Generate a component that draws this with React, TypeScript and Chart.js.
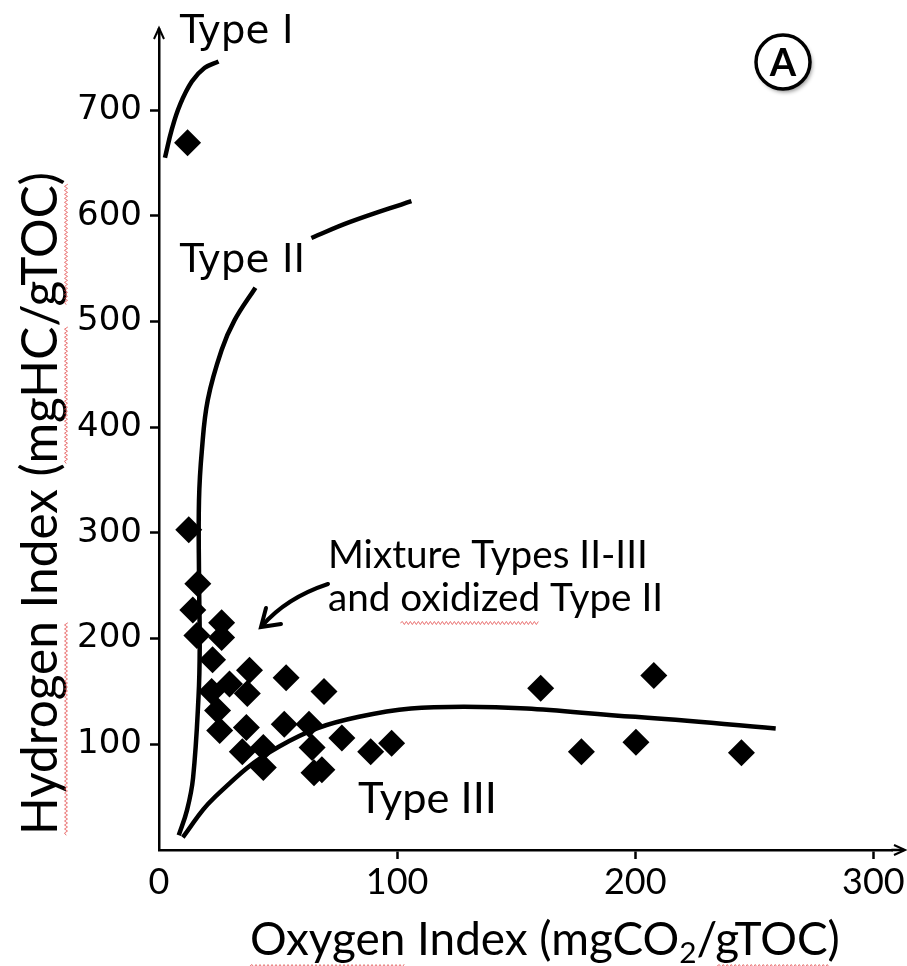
import React, { useEffect, useRef } from 'react';
import { Chart, registerables } from 'chart.js';

Chart.register(...registerables);

// Axis tick values
const xTickValues = [0, 100, 200, 300];
const yTickValues = [100, 200, 300, 400, 500, 600, 700];

// Samples: Oxygen Index (mgCO2/gTOC) vs Hydrogen Index (mgHC/gTOC)
const sampleOI = [
  12, 12.5, 16.3, 14.2, 15.9, 26.3, 26.3, 22.5, 38, 53.4, 69.3, 29.6, 22.1, 37.1, 24.6, 25.5, 36.7,
  52.6, 63, 76.8, 35, 43.8, 64.3, 43.8, 65.1, 68.4, 88.9, 97.7, 160.3, 177.4, 200.3, 207.8, 244.6,
];
const sampleHI = [
  669, 303, 252, 227, 203, 215, 201, 180, 170, 163, 150, 157, 150, 148, 132, 113, 116,
  119, 119, 106, 93, 97, 97, 78, 73, 76, 93, 101, 153, 93, 102, 165, 92,
];

// Kerogen evolution paths
const typeIOI = [2.5, 5.4, 8.8, 13.8, 19.2, 25];
const typeIHI = [655, 682, 705, 727, 740, 746];

const typeIIUpperOI = [64, 80, 106];
const typeIIUpperHI = [579, 594, 614];

const typeIILowerOI = [40.5, 31.7, 26.3, 20.5, 18, 16.8, 16.8, 17.1, 16.6, 14.3, 11.8, 8.3];
const typeIILowerHI = [532, 501, 473, 426, 378, 331, 260, 192, 145, 68, 38, 14];

const typeIIIOI = [10, 22.5, 50.5, 84, 128, 200, 259];
const typeIIIHI = [12, 48, 98, 126, 135.5, 126, 115];

const pts = (xs: number[], ys: number[]) => xs.map((x, i) => ({ x, y: ys[i] }));

const CAL = 'Lato, "Open Sans", sans-serif';
const VER = '"DejaVu Sans", Verdana, sans-serif';

function sizeFor(ctx: CanvasRenderingContext2D, text: string, family: string, target: number, weight = 'normal') {
  ctx.font = `${weight} 100px ${family}`;
  return (100 * target) / ctx.measureText(text).width;
}

function squiggle(ctx: CanvasRenderingContext2D, x0: number, x1: number, y: number) {
  ctx.save();
  ctx.strokeStyle = 'rgba(225,70,70,0.75)';
  ctx.lineWidth = 1;
  ctx.beginPath();
  let up = true;
  ctx.moveTo(x0, y);
  for (let x = x0 + 2; x <= x1; x += 2) {
    ctx.lineTo(x, up ? y - 1.5 : y + 1.5);
    up = !up;
  }
  ctx.stroke();
  ctx.restore();
}

const decorations = {
  id: 'decorations',
  afterDraw(chart: any) {
    const { ctx, chartArea } = chart;
    const left = chartArea.left;
    const bottom = chartArea.bottom;
    ctx.save();
    ctx.fillStyle = '#000';
    ctx.strokeStyle = '#000';
    ctx.lineCap = 'butt';

    // axis extensions with arrowheads
    ctx.lineWidth = 2.5;
    ctx.beginPath();
    ctx.moveTo(left, chartArea.top + 1);
    ctx.lineTo(left, 28);
    ctx.moveTo(chartArea.right - 1, bottom);
    ctx.lineTo(904, bottom);
    ctx.stroke();
    ctx.lineWidth = 2;
    ctx.beginPath();
    ctx.moveTo(left - 5, 39);
    ctx.lineTo(left, 28);
    ctx.lineTo(left + 5, 39);
    ctx.moveTo(894, bottom - 5);
    ctx.lineTo(905, bottom);
    ctx.lineTo(894, bottom + 5);
    ctx.stroke();

    ctx.textBaseline = 'alphabetic';
    ctx.textAlign = 'left';

    // curve labels
    ctx.font = `39px ${VER}`;
    ctx.fillText('Type I', 180, 43);
    ctx.fillText('Type II', 180, 272);

    let s = sizeFor(ctx, 'Mixture Types II-III', CAL, 320);
    ctx.font = `${s}px ${CAL}`;
    ctx.fillText('Mixture Types II-III', 328, 568);
    ctx.fillText('and oxidized Type II', 328, 611);
    const wAnd = ctx.measureText('and ').width;
    const wOx = ctx.measureText('oxidized').width;
    squiggle(ctx, 328 + wAnd, 328 + wAnd + wOx, 623);

    s = sizeFor(ctx, 'Type III', CAL, 139);
    ctx.font = `${s}px ${CAL}`;
    ctx.fillText('Type III', 358, 813);

    // pointer arrow
    ctx.lineWidth = 4;
    ctx.lineCap = 'round';
    ctx.beginPath();
    ctx.moveTo(328, 584);
    ctx.quadraticCurveTo(286, 598, 262, 626);
    ctx.stroke();
    ctx.beginPath();
    ctx.moveTo(266, 608);
    ctx.lineTo(261, 627);
    ctx.lineTo(281, 624);
    ctx.stroke();

    // x-axis title with subscript
    const xParts = ['Oxygen Index (mgCO', '2', '/gTOC)'];
    ctx.font = `100px ${CAL}`;
    let w100 = ctx.measureText(xParts[0]).width + ctx.measureText(xParts[2]).width;
    ctx.font = `65px ${CAL}`;
    w100 += ctx.measureText(xParts[1]).width;
    const xs = (100 * 590) / w100;
    let cx = 250;
    const by = 955;
    ctx.font = `${xs}px ${CAL}`;
    ctx.fillText(xParts[0], cx, by);
    const wOxy = ctx.measureText('Oxygen').width;
    squiggle(ctx, cx, cx + wOxy, by + 11);
    cx += ctx.measureText(xParts[0]).width;
    ctx.font = `${xs * 0.65}px ${CAL}`;
    ctx.fillText(xParts[1], cx, by + xs * 0.18);
    cx += ctx.measureText(xParts[1]).width;
    ctx.font = `${xs}px ${CAL}`;
    ctx.fillText(xParts[2], cx, by);
    const wSl = ctx.measureText('/').width;
    const wG = ctx.measureText('gTOC').width;
    squiggle(ctx, cx + wSl, cx + wSl + wG, by + 11);

    // y-axis title
    const yTitle = 'Hydrogen Index (mgHC/gTOC)';
    const ys = sizeFor(ctx, yTitle, CAL, 663);
    ctx.save();
    ctx.translate(57, 835);
    ctx.rotate(-Math.PI / 2);
    ctx.font = `${ys}px ${CAL}`;
    ctx.fillText(yTitle, 0, 0);
    const m = (t: string) => ctx.measureText(t).width;
    squiggle(ctx, 0, m('Hydrogen'), 9);
    const a = m('Hydrogen Index (');
    squiggle(ctx, a, a + m('mgHC'), 9);
    const b = m('Hydrogen Index (mgHC/');
    squiggle(ctx, b, b + m('gTOC'), 9);
    ctx.restore();

    // panel badge
    ctx.save();
    ctx.shadowColor = 'rgba(0,0,0,0.45)';
    ctx.shadowBlur = 4;
    ctx.shadowOffsetX = 2;
    ctx.shadowOffsetY = 3;
    ctx.fillStyle = '#fff';
    ctx.beginPath();
    ctx.arc(783, 62, 27, 0, Math.PI * 2);
    ctx.fill();
    ctx.restore();
    ctx.lineWidth = 3.5;
    ctx.beginPath();
    ctx.arc(783, 62, 27, 0, Math.PI * 2);
    ctx.stroke();
    ctx.font = `bold 38px ${CAL}`;
    ctx.textAlign = 'center';
    ctx.textBaseline = 'middle';
    ctx.fillText('A', 783, 64);

    ctx.restore();
  },
};

export default function App() {
  const canvasRef = useRef<HTMLCanvasElement | null>(null);

  useEffect(() => {
    const canvas = canvasRef.current;
    if (!canvas) return;
    const curve = (data: { x: number; y: number }[]) => ({
      type: 'scatter' as const,
      data,
      showLine: true,
      pointRadius: 0,
      borderColor: '#000',
      borderWidth: 4.5,
      tension: 0.4,
      fill: false,
    });
    const chart = new Chart(canvas, {
      type: 'scatter',
      data: {
        datasets: [
          {
            data: pts(sampleOI, sampleHI),
            pointStyle: 'rectRot',
            pointRadius: 13.5,
            backgroundColor: '#000',
            borderColor: '#000',
            borderWidth: 0,
          },
          curve(pts(typeIOI, typeIHI)),
          curve(pts(typeIIUpperOI, typeIIUpperHI)),
          curve(pts(typeIILowerOI, typeIILowerHI)),
          curve(pts(typeIIIOI, typeIIIHI)),
        ],
      },
      options: {
        animation: false,
        responsive: false,
        devicePixelRatio: 1,
        layout: { padding: { top: 34, right: 10, left: 0, bottom: 0 } },
        plugins: { legend: { display: false }, tooltip: { enabled: false } },
        scales: {
          x: {
            type: 'linear',
            min: 0,
            max: 308,
            afterBuildTicks: (scale: any) => {
              scale.ticks = xTickValues.map((value) => ({ value }));
            },
            afterFit: (scale: any) => {
              scale.height = 116;
            },
            ticks: {
              color: '#000',
              padding: 2,
              font: { family: CAL, size: 36 },
              callback: (v: any) => String(v),
            },
            grid: {
              drawOnChartArea: false,
              drawTicks: true,
              tickLength: 9,
              tickWidth: 2.5,
              tickColor: (c: any) => (c.tick && c.tick.value === 0 ? 'rgba(0,0,0,0)' : '#000'),
            },
            border: { display: true, color: '#000', width: 2.5 },
          },
          y: {
            type: 'linear',
            min: 0,
            max: 772,
            afterBuildTicks: (scale: any) => {
              scale.ticks = yTickValues.map((value) => ({ value }));
            },
            afterFit: (scale: any) => {
              scale.width = 159;
            },
            ticks: {
              color: '#000',
              padding: 8,
              font: { family: VER, size: 34 },
              callback: (v: any) => String(v),
            },
            grid: {
              drawOnChartArea: false,
              drawTicks: true,
              tickLength: 9,
              tickWidth: 2.5,
              tickColor: '#000',
            },
            border: { display: true, color: '#000', width: 2.5 },
          },
        },
      },
      plugins: [decorations],
    } as any);
    return () => chart.destroy();
  }, []);

  return (
    <div style={{ position: 'fixed', left: 0, top: 0, width: 907, height: 966, background: '#fff' }}>
      <canvas ref={canvasRef} width={907} height={966} style={{ display: 'block' }} />
    </div>
  );
}
